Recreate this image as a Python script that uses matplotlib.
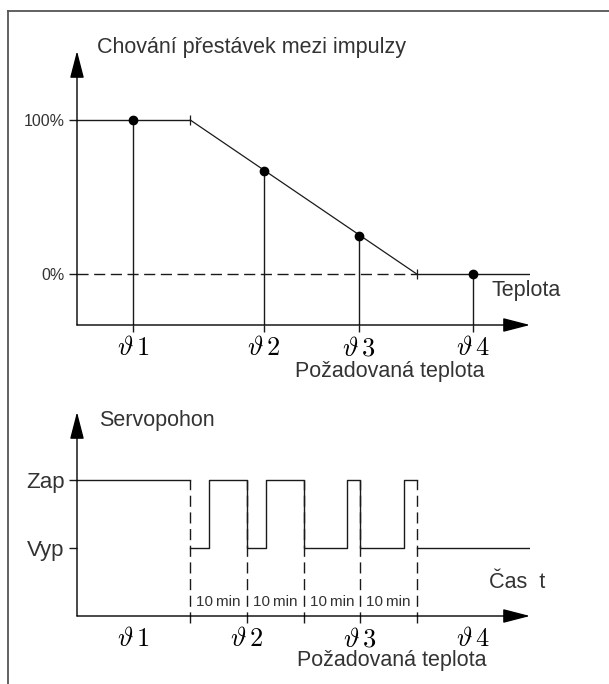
import matplotlib
matplotlib.use("Agg")
import matplotlib.pyplot as plt
from matplotlib.lines import Line2D

plt.rcParams['font.family'] = ['Liberation Sans', 'DejaVu Sans']
plt.rcParams['mathtext.fontset'] = 'cm'

# --- top chart: pause behaviour vs. temperature ---
setpoint_labels = [r'$\vartheta\,1$', r'$\vartheta\,2$', r'$\vartheta\,3$', r'$\vartheta\,4$']
setpoint_pos = [12.4, 41.3, 62.3, 87.4]          # temperature scale 0..100
pause_at_setpoint = [100, 67, 25, 0]             # %
curve_temp = [0, 25, 75, 100]
curve_pause = [100, 100, 0, 0]
corner_temp = [25, 75]
corner_pause = [100, 0]

# --- bottom chart: actuator on/off over time (minutes) ---
state_labels = ['Vyp', 'Zap']
period_edges = [20, 30, 40, 50, 60]              # 10 min periods
switch_times = [20, 23.3, 30, 33.3, 40, 47.7, 50, 57.7, 60]
switch_state = [0, 1, 0, 1, 0, 1, 0, 1, 1]
period_mid = [25, 35, 45, 55]
range_mid = [10, 30, 50, 70]

W, H = 609, 684
fig = plt.figure(figsize=(W / 100, H / 100), dpi=100)

LC = '#1a1a1a'
TC = '#333333'


def px_axes(left, top, right, bottom):
    return fig.add_axes([left / W, 1 - bottom / H, (right - left) / W, (bottom - top) / H])


def arrow_axes(ax):
    for s in ax.spines.values():
        s.set_visible(False)
    st = '-|>,head_length=2.4,head_width=0.62'
    kw = dict(xycoords='axes fraction', textcoords='axes fraction',
              arrowprops=dict(arrowstyle=st, color='black', lw=1.0, mutation_scale=7,
                              shrinkA=0, shrinkB=0))
    ax.annotate('', xy=(1, 0), xytext=(0, 0), **kw)
    ax.annotate('', xy=(0, 1), xytext=(0, 0), **kw)


# frame (only top/left visible in the crop)
fig.add_artist(Line2D([8 / W, 8 / W], [1 - 11 / H, 0], color='#555555', lw=1.3))
fig.add_artist(Line2D([8 / W, 1], [1 - 11 / H, 1 - 11 / H], color='#555555', lw=1.3))

# ---------------- top ----------------
ax1 = px_axes(77, 51, 530, 325)
ax1.set_xlim(0, 100)
ax1.set_ylim(-33.1, 144.8)
arrow_axes(ax1)

ax1.plot([0, corner_temp[1]], [0, 0], color=LC, lw=1.0, dashes=(8, 4))
ax1.plot(curve_temp[:2], curve_pause[:2], color=LC, lw=1.0)
ax1.plot(curve_temp[1:3], curve_pause[1:3], color=LC, lw=0.9)
ax1.plot(curve_temp[2:], curve_pause[2:], color=LC, lw=1.0)
ax1.plot(corner_temp, corner_pause, ls='none', marker='|', ms=7, mew=0.9, color=LC)
ax1.vlines(setpoint_pos, -33.1, pause_at_setpoint, color=LC, lw=1.0)
ax1.plot(setpoint_pos, pause_at_setpoint, 'o', ms=6, color='black')

ax1.set_xticks(setpoint_pos, setpoint_labels, fontsize=19)
ax1.tick_params(axis='x', length=5, width=1.0, color=LC, pad=3, direction='out')
ax1.set_yticks([0, 100], ['0%', '100%'], fontsize=11.5, color=TC)
ax1.tick_params(axis='y', length=6, width=1.0, color=LC, pad=3)

ax1.text(4.5, 146.8, 'Chování přestávek mezi impulzy', fontsize=15.5, color=TC,
         va='center', ha='left', clip_on=False)
ax1.text(91.6, -11.0, 'Teplota', fontsize=15.5, color=TC, va='center', ha='left')
ax1.text(48.1, -63.6, 'Požadovaná teplota', fontsize=15.5, color=TC,
         va='center', ha='left', clip_on=False)

# ---------------- bottom ----------------
ax2 = px_axes(77, 412, 530, 616)
ax2.set_xlim(0, 80)
ax2.set_ylim(-1.0, 2.0)
arrow_axes(ax2)

ax2.plot([0, period_edges[0]], [1, 1], color=LC, lw=1.0)
ax2.step(switch_times, switch_state, where='post', color=LC, lw=1.0)
ax2.plot([period_edges[-1], 80], [0, 0], color=LC, lw=1.0)
ax2.vlines(period_edges, -1.103, 1, color=LC, lw=1.0, linestyles=(0, (8, 4)),
           clip_on=False)

ax2.set_xticks(range_mid, setpoint_labels, fontsize=19)
ax2.tick_params(axis='x', length=0, pad=8)
ax2.set_yticks([0, 1], state_labels, fontsize=16, color=TC)
ax2.tick_params(axis='y', length=6, width=1.0, color=LC, pad=3)

for m in period_mid:
    ax2.text(m, -0.79, '10\u2009min', fontsize=11, color=TC,
             ha='center', va='center')
ax2.text(3.9, 1.88, 'Servopohon', fontsize=15.5, color=TC, va='center', ha='left',
         clip_on=False)
ax2.text(72.8, -0.51, 'Čas  t', fontsize=15.5, color=TC, va='center', ha='left')
ax2.text(38.9, -1.65, 'Požadovaná teplota', fontsize=15.5, color=TC,
         va='center', ha='left', clip_on=False)

fig.savefig('out.png', dpi=100)
